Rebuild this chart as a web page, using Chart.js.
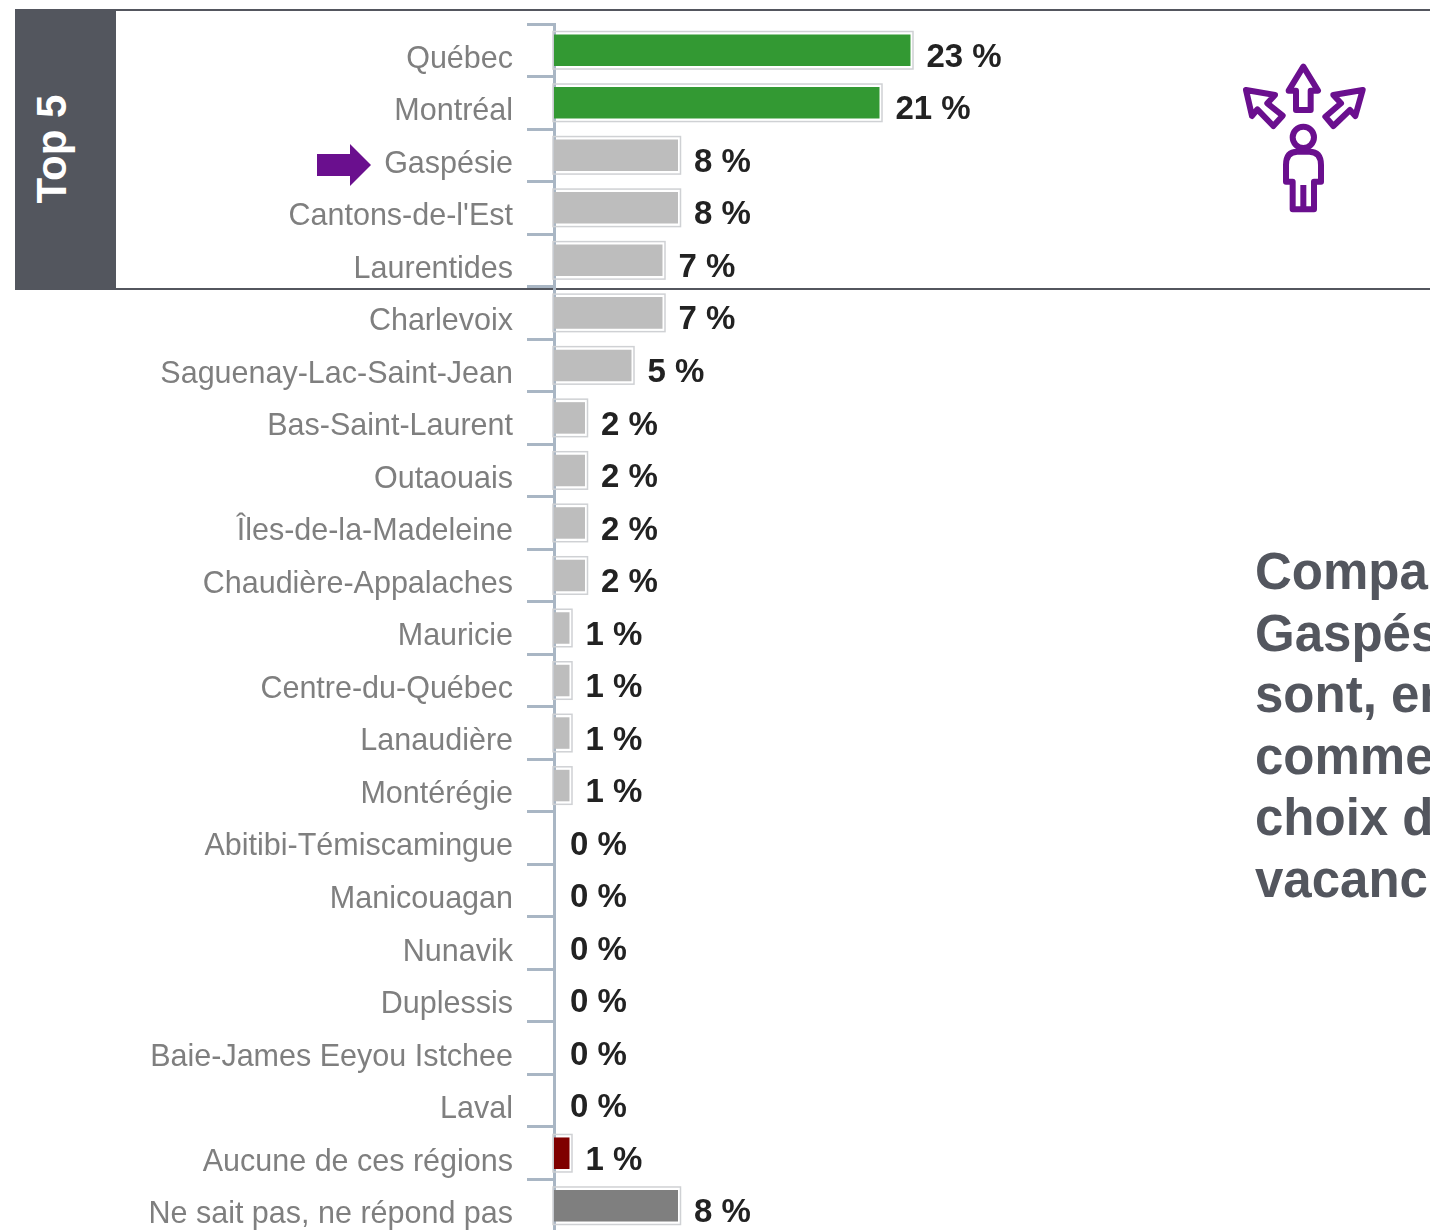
<!DOCTYPE html>
<html lang="fr">
<head>
<meta charset="utf-8">
<title>Top 5</title>
<script src="https://cdn.jsdelivr.net/npm/chart.js@4"></script>
<style>
html,body{margin:0;padding:0;background:#fff;width:1430px;height:1230px;overflow:hidden}
#stage{position:relative;width:1430px;height:1230px;overflow:hidden;filter:blur(.6px);font-family:"Liberation Sans",Arial,sans-serif}
#box{position:absolute;left:15px;top:9px;width:1415px;height:277px;border-top:2px solid #53565e;border-bottom:2px solid #53565e}
#band{position:absolute;left:15px;top:9px;width:101px;height:281px;background:#53565e}
#bandText{position:absolute;left:52px;top:149px;transform:translate(-50%,-50%) rotate(-90deg);color:#fff;font-weight:700;font-size:42px;white-space:nowrap}
#chartWrap{position:absolute;left:0;top:0;width:1430px;height:1240px}
#note{position:absolute;left:1255px;top:541px;width:175px;overflow:hidden;color:#53565e;font-weight:700;font-size:51px;line-height:61.5px;white-space:nowrap}
svg{position:absolute}
</style>
</head>
<body>
<div id="stage">
  <div id="box"></div>
  <div id="band"></div>
  <div id="bandText">Top 5</div>
  <div id="chartWrap"><canvas id="c" width="1430" height="1240"></canvas></div>
  <svg style="left:317px;top:144px" width="55" height="43" viewBox="0 0 55 43"><path d="M0 10H33V0L54 21 33 42V32H0Z" fill="#6a0f8e"/></svg>
  <svg style="left:1220px;top:50px" width="170" height="180" viewBox="0 0 510 540" fill="none" stroke="#6a0f8e" stroke-width="18" stroke-linejoin="round">
    <path d="M250 50 294 122H272V180H228V122H206Z"/>
    <path d="M78 120 165 135 142 160 188 197 160 228 112 178 96 198Z"/>
    <path d="M428 120 340 135 363 160 316 200 340 228 390 180 406 198Z"/>
    <circle cx="250" cy="262" r="32"/>
    <path d="M232 305H268Q303 305 303 345V395H282V478H218V395H198V345Q198 305 232 305Z"/>
    <path d="M250 405V478"/>
  </svg>
  <div id="note">Compa<br>Gaspés<br>sont, en<br>comme<br>choix d<br>vacanc</div>
</div>
<script>
const categories = ["Québec","Montréal","Gaspésie","Cantons-de-l'Est","Laurentides","Charlevoix","Saguenay-Lac-Saint-Jean","Bas-Saint-Laurent","Outaouais","Îles-de-la-Madeleine","Chaudière-Appalaches","Mauricie","Centre-du-Québec","Lanaudière","Montérégie","Abitibi-Témiscamingue","Manicouagan","Nunavik","Duplessis","Baie-James Eeyou Istchee","Laval","Aucune de ces régions","Ne sait pas, ne répond pas"];
const values = [23,21,8,8,7,7,5,2,2,2,2,1,1,1,1,0,0,0,0,0,0,1,8];
const barColors = ["#339933","#339933","#bdbdbd","#bdbdbd","#bdbdbd","#bdbdbd","#bdbdbd","#bdbdbd","#bdbdbd","#bdbdbd","#bdbdbd","#bdbdbd","#bdbdbd","#bdbdbd","#bdbdbd","#bdbdbd","#bdbdbd","#bdbdbd","#bdbdbd","#bdbdbd","#bdbdbd","#7f0000","#7f7f7f"];

const barDecor = {
  id:'barDecor',
  afterDatasetsDraw(chart){
    const {ctx} = chart, meta = chart.getDatasetMeta(0);
    ctx.save();
    meta.data.forEach((bar,i)=>{
      const v = values[i];
      if(v>0){
        const h = bar.height;
        ctx.strokeStyle='#cfd1d4'; ctx.lineWidth=1.5;
        ctx.strokeRect(bar.base-1, bar.y-h/2-3, bar.x-bar.base+3.5, h+6);
      }
      ctx.fillStyle='#222'; ctx.font='700 33px "Liberation Sans",Arial,sans-serif';
      ctx.textAlign='left'; ctx.textBaseline='middle';
      ctx.fillText(v+' %', bar.x+16, bar.y+7.5);
    });
    ctx.restore();
  }
};

new Chart(document.getElementById('c'),{
  type:'bar',
  data:{labels:categories,datasets:[{data:values,backgroundColor:barColors,borderWidth:0,barPercentage:0.6,categoryPercentage:1}]},
  options:{
    indexAxis:'y',responsive:false,animation:false,
    layout:{padding:{left:0,right:411,top:24,bottom:8}},
    plugins:{legend:{display:false},tooltip:{enabled:false}},
    scales:{
      x:{display:false,min:0,max:30},
      y:{
        afterFit(a){a.width=554;a.paddingTop=0;a.paddingBottom=0;},
        border:{color:'#a9b6c4',width:3},
        grid:{drawOnChartArea:false,tickLength:27,tickWidth:3,tickColor:'#a9b6c4'},
        ticks:{autoSkip:false,padding:14,labelOffset:9,color:'#7f7f7f',font:{family:'"Liberation Sans",Arial,sans-serif',size:30.5}}
      }
    }
  },
  plugins:[barDecor]
});
</script>
</body>
</html>
